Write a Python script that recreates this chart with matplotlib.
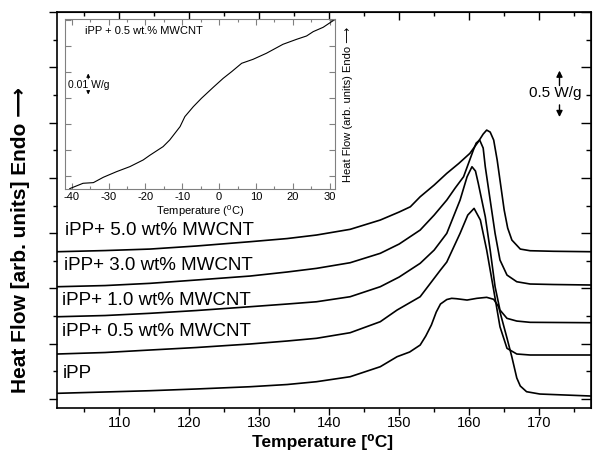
import matplotlib
matplotlib.use('Agg')
import matplotlib.pyplot as plt
from matplotlib.ticker import MultipleLocator, NullFormatter

plt.rcParams['font.family'] = ['Liberation Sans', 'DejaVu Sans']
plt.rcParams['mathtext.fontset'] = 'custom'
plt.rcParams['mathtext.rm'] = 'Liberation Sans'
plt.rcParams['mathtext.bf'] = 'Liberation Sans:bold'
plt.rcParams['axes.unicode_minus'] = False

# DSC heating curves, temperature [C] vs heat flow [arb. units, shifted]
t_50 = [101.2, 108, 114.4, 121, 128.7, 134, 138.2, 143.0, 147.3, 150, 151.6, 153.0, 155, 156.8,
        158.5, 160.1, 161.3, 162.0, 162.5, 163.0, 163.5, 164.0, 164.5, 165.0, 165.5, 166.1,
        167.3, 168.7, 172, 177.4]
hf_50 = [2.664, 2.685, 2.712, 2.767, 2.845, 2.902, 2.966, 3.069, 3.237, 3.382, 3.477, 3.658, 3.870, 4.081,
         4.259, 4.443, 4.653, 4.792, 4.864, 4.828, 4.684, 4.322, 3.870, 3.418, 3.092, 2.875,
         2.712, 2.682, 2.672, 2.664]

t_30 = [101.2, 108, 114.4, 121, 128.7, 134, 138.2, 143.0, 147.3, 150, 153, 155, 156.8, 158,
        159.2, 160.6, 161.0, 161.5, 162.0, 162.3, 163.0, 163.7, 164.4, 165.4, 166.8, 168.7, 172, 177.4]
hf_30 = [2.031, 2.052, 2.092, 2.152, 2.224, 2.297, 2.363, 2.465, 2.635, 2.803, 3.056, 3.327, 3.598, 3.816,
         4.020, 4.503, 4.629, 4.684, 4.539, 4.201, 3.598, 2.996, 2.514, 2.242, 2.121, 2.080, 2.071, 2.062]

t_10 = [101.2, 108, 114.4, 121, 128.7, 134, 138.2, 143, 147.3, 150, 153, 155, 156.8, 158.7,
        159.7, 160.4, 160.9, 161.3, 162.3, 163.0, 163.7, 164.4, 165.4, 166.8, 168.7, 177.4]
hf_10 = [1.488, 1.510, 1.550, 1.600, 1.669, 1.718, 1.759, 1.850, 2.031, 2.206, 2.454, 2.694, 2.996, 3.598,
         4.020, 4.201, 4.123, 3.901, 3.297, 2.694, 2.031, 1.609, 1.459, 1.410, 1.387, 1.380]

t_05 = [101.2, 108, 114.4, 121, 128.7, 134, 138.2, 143, 147.3, 149.7, 153, 155.9, 156.8, 158.7,
        159.8, 160.7, 161.6, 162.5, 163.5, 164.4, 165.4, 166.8, 168.7, 177.4]
hf_05 = [0.814, 0.841, 0.886, 0.931, 0.995, 1.049, 1.098, 1.199, 1.398, 1.609, 1.850, 2.333, 2.477, 2.996,
         3.327, 3.448, 3.237, 2.694, 1.971, 1.307, 0.917, 0.814, 0.796, 0.796]

t_ipp = [101.2, 108, 114.4, 121, 128.7, 134, 138.2, 143, 147.3, 149.7, 151.5, 153, 153.8, 154.6,
         155.3, 155.9, 156.8, 157.5, 158.2, 159.7, 161.1, 162.5, 163.5, 164.2, 164.9, 165.4,
         166.1, 166.8, 167.3, 168.2, 170.1, 177.4]
hf_ipp = [0.103, 0.127, 0.150, 0.181, 0.222, 0.262, 0.313, 0.403, 0.584, 0.765, 0.850, 0.976, 1.139, 1.338,
          1.573, 1.718, 1.799, 1.821, 1.814, 1.790, 1.821, 1.839, 1.803, 1.669, 1.338, 1.103,
          0.759, 0.380, 0.235, 0.132, 0.090, 0.054]

curve_labels = ['iPP+ 5.0 wt% MWCNT', 'iPP+ 3.0 wt% MWCNT', 'iPP+ 1.0 wt% MWCNT',
                'iPP+ 0.5 wt% MWCNT', 'iPP']

# inset: glass transition region of iPP + 0.5 wt.% MWCNT
t_inset = [-40.5, -36.9, -34.1, -31.4, -27.8, -24.2, -20.6, -18.8, -15.2, -13.4, -10.6, -9.3, -7.0,
           -4.8, -1.6, 1.1, 3.4, 6.1, 9.2, 12.8, 17.3, 21.0, 23.7, 25.5, 28.2, 30.9]
hf_inset = [-0.474, -0.269, -0.244, -0.038, 0.179, 0.372, 0.628, 0.808, 1.141, 1.397, 1.910, 2.295, 2.679,
            3.0, 3.423, 3.769, 4.026, 4.346, 4.500, 4.731, 5.077, 5.269, 5.397, 5.564, 5.731, 5.987]

fig = plt.figure(figsize=(6, 4.51), dpi=100)
ax = fig.add_axes([0.0958, 0.0953, 0.8892, 0.8781])

curves = [(t_50, hf_50), (t_30, hf_30), (t_10, hf_10), (t_05, hf_05), (t_ipp, hf_ipp)]
for t, hf in curves:
    ax.plot(t, hf, color='black', lw=1.2)

label_pos = [(102.3, 3.056), (102.1, 2.423), (101.8, 1.790), (101.8, 1.212), (102.0, 0.470)]
for lab, (lx, ly) in zip(curve_labels, label_pos):
    ax.text(lx, ly, lab, fontsize=13.5, ha='left', va='center')

ax.set_xlim(101.2, 177.4)
ax.set_ylim(-0.163, 7.0)
ax.xaxis.set_major_locator(MultipleLocator(10))
ax.xaxis.set_minor_locator(MultipleLocator(5))
ax.yaxis.set_major_locator(MultipleLocator(1))
ax.yaxis.set_minor_locator(MultipleLocator(0.5))
ax.yaxis.set_major_formatter(NullFormatter())
ax.tick_params(which='both', direction='out', width=1.0)
ax.tick_params(which='major', length=6)
ax.tick_params(which='minor', length=3)
ax.tick_params(axis='x', which='major', length=5, labelsize=10.5, pad=1)
for s in ax.spines.values():
    s.set_linewidth(1.2)

top = ax.secondary_xaxis('top')
top.xaxis.set_major_locator(MultipleLocator(10))
top.xaxis.set_minor_locator(MultipleLocator(5))
top.tick_params(which='both', direction='in', labeltop=False, width=1.0)
top.tick_params(which='major', length=6)
top.tick_params(which='minor', length=3)
right = ax.secondary_yaxis('right')
right.yaxis.set_major_locator(MultipleLocator(1))
right.yaxis.set_minor_locator(MultipleLocator(0.5))
right.tick_params(which='both', direction='in', labelright=False, width=1.0)
right.tick_params(which='major', length=7)
right.tick_params(which='minor', length=3.5)

ax.set_xlabel('Temperature [\u2070C]', fontsize=12.5, fontweight='bold')
ax.xaxis.label.set_verticalalignment('bottom')
ax.xaxis.set_label_coords(0.497, -0.106)
fig.text(0.035, 1 - 240 / 451, 'Heat Flow [arb. units] Endo \u27f6', rotation=90,
         fontsize=15, fontweight='bold', ha='center', va='center')

# 0.5 W/g scale bar
ax.text(172.3, 5.533, '0.5 W/g', fontsize=11, ha='center', va='center')
ax.annotate('', xy=(172.9, 5.99), xytext=(172.9, 5.62),
            arrowprops=dict(arrowstyle='-|>', color='black', lw=1, mutation_scale=9))
ax.annotate('', xy=(172.9, 5.05), xytext=(172.9, 5.37),
            arrowprops=dict(arrowstyle='-|>', color='black', lw=1, mutation_scale=9))

# inset
ins = fig.add_axes([0.1083, 0.5803, 0.45, 0.377])
ins.plot(t_inset, hf_inset, color='black', lw=0.8)
ins.set_xlim(-41.8, 31.4)
ins.set_ylim(-0.5, 6.04)
ins.xaxis.set_major_locator(MultipleLocator(10))
ins.xaxis.set_minor_locator(MultipleLocator(5))
ins.yaxis.set_major_locator(MultipleLocator(1))
ins.yaxis.set_major_formatter(NullFormatter())
ins.tick_params(which='both', direction='in', top=True, right=True, color='gray', width=0.8)
ins.tick_params(which='major', length=4)
ins.tick_params(which='minor', length=2)
ins.tick_params(axis='x', labelsize=8, pad=2)
for s in ins.spines.values():
    s.set_color('gray')
    s.set_linewidth(0.8)
ins.set_xlabel('Temperature ($^0$C)', fontsize=8, labelpad=1)
ins.yaxis.set_label_position('right')
ins.set_ylabel('Heat Flow (arb. units) Endo \u27f6', fontsize=8, labelpad=6)
ins.text(-36.5, 5.6, 'iPP + 0.5 wt.% MWCNT', fontsize=8, ha='left', va='center')
ins.text(-41.0, 3.51, '0.01 W/g', fontsize=7.5, ha='left', va='center')
ins.annotate('', xy=(-35.5, 4.06), xytext=(-35.5, 3.64),
             arrowprops=dict(arrowstyle='-|>', color='black', lw=0.7, mutation_scale=5))
ins.annotate('', xy=(-35.5, 3.04), xytext=(-35.5, 3.38),
             arrowprops=dict(arrowstyle='-|>', color='black', lw=0.7, mutation_scale=5))

fig.savefig('out.png', dpi=100)
